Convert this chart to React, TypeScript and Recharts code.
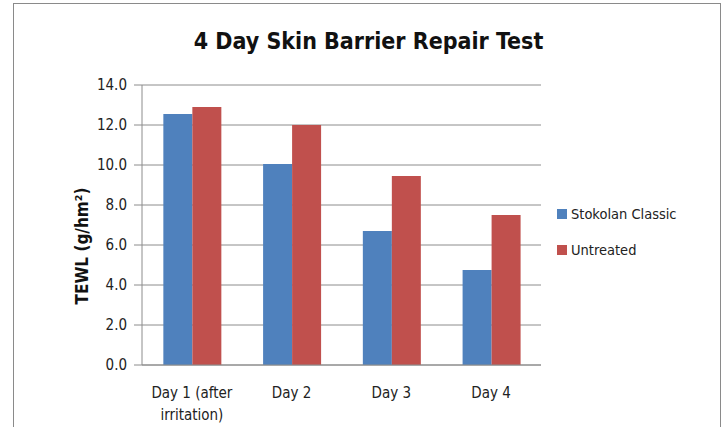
import React from "react";
import { BarChart, Bar, XAxis, YAxis, CartesianGrid } from "recharts";

const categories = ["Day 1 (after|irritation)", "Day 2", "Day 3", "Day 4"];
const stokolan = [12.55, 10.05, 6.7, 4.75];
const untreated = [12.9, 12.0, 9.45, 7.5];
const yTicks = [0, 2, 4, 6, 8, 10, 12, 14];

const BLUE = "#4F81BD";
const RED = "#C0504D";
const FONT = "'Liberation Sans Narrow', 'DejaVu Sans Condensed', sans-serif";

const data = categories.map((c, i) => ({
  day: c,
  stokolan: stokolan[i],
  untreated: untreated[i],
}));

function DayTick(props: any) {
  const { x, y, payload } = props;
  const lines = String(payload.value).split("|");
  return (
    <text x={x} y={y} textAnchor="middle" fontFamily={FONT} fontSize={15} fill="#222">
      {lines.map((l, i) => (
        <tspan key={i} x={x} dy={i === 0 ? 25 : 22}>
          {l}
        </tspan>
      ))}
    </text>
  );
}

function YLabel() {
  return (
    <text
      x={0}
      y={0}
      transform="translate(88, 246) rotate(-90)"
      textAnchor="middle"
      fontFamily={FONT}
      fontWeight="bold"
      fontSize={17}
      fill="#111"
    >
      TEWL (g/hm²)
    </text>
  );
}

export default function App() {
  return (
    <div style={{ position: "absolute", left: 0, top: 0, width: 727, height: 427, overflow: "hidden", background: "#fff" }}>
      <div
        style={{
          position: "absolute",
          left: 13,
          top: 3,
          width: 708,
          height: 460,
          border: "1.5px solid #8a8a8a",
          boxSizing: "border-box",
        }}
      />
      <div
        style={{
          position: "absolute",
          left: 0,
          top: 26,
          width: 737,
          textAlign: "center",
          fontFamily: FONT,
          fontWeight: "bold",
          fontSize: 23,
          color: "#111",
          lineHeight: "30px",
        }}
      >
        4 Day Skin Barrier Repair Test
      </div>
      <div style={{ position: "absolute", left: 0, top: 0 }}>
        <BarChart
          width={727}
          height={427}
          data={data}
          margin={{ top: 85, right: 186, bottom: 0, left: 0 }}
          barCategoryGap="21.4%"
          barGap={0}
        >
          <CartesianGrid horizontal vertical={false} stroke="#8c8c8c" />
          <XAxis
            dataKey="day"
            height={62}
            tickLine={false}
            axisLine={{ stroke: "#8c8c8c" }}
            tick={<DayTick />}
            interval={0}
          />
          <YAxis
            width={142}
            domain={[0, 14]}
            ticks={yTicks}
            tickFormatter={(v: number) => v.toFixed(1)}
            tickSize={8}
            tickMargin={7}
            tickLine={{ stroke: "#8c8c8c" }}
            axisLine={{ stroke: "#8c8c8c" }}
            tick={{ fontFamily: FONT, fontSize: 15, fill: "#222" }}
            label={<YLabel />}
          />
          <YAxis
            yAxisId="r"
            orientation="right"
            width={0}
            tick={false}
            tickLine={false}
            axisLine={{ stroke: "#333" }}
          />
          <Bar dataKey="stokolan" fill={BLUE} isAnimationActive={false} />
          <Bar dataKey="untreated" fill={RED} isAnimationActive={false} />
        </BarChart>
      </div>
      {[
        { name: "Stokolan Classic", color: BLUE, top: 206 },
        { name: "Untreated", color: RED, top: 242 },
      ].map((it) => (
        <div
          key={it.name}
          style={{ position: "absolute", left: 557, top: it.top, display: "flex", alignItems: "center", fontFamily: FONT, fontSize: 14.5, color: "#222", lineHeight: "16px" }}
        >
          <span style={{ display: "inline-block", width: 10, height: 10, background: it.color, marginRight: 4 }} />
          {it.name}
        </div>
      ))}
    </div>
  );
}
